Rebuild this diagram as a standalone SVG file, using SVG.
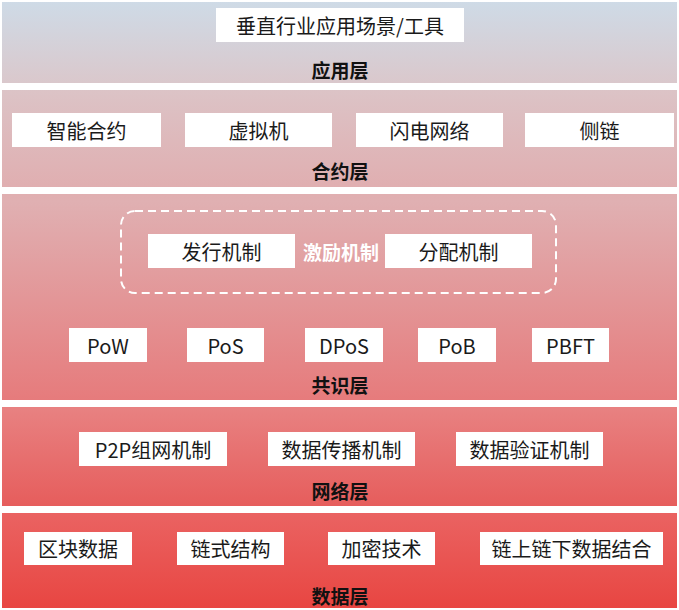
<svg xmlns="http://www.w3.org/2000/svg" width="679" height="610" viewBox="0 0 679 610">
<style>
.box{fill:#ffffff}
.t{font-family:"Noto Sans CJK SC","Microsoft YaHei",sans-serif;font-size:20px;fill:#1a1a1a;text-anchor:middle;dominant-baseline:central}
.lbl{font-family:"Noto Sans CJK SC",sans-serif;font-size:19px;font-weight:bold;fill:#111;text-anchor:middle;dominant-baseline:central}
.wl{font-family:"Noto Sans CJK SC",sans-serif;font-size:19px;font-weight:bold;fill:#ffffff;text-anchor:middle;dominant-baseline:central}
</style>
<defs>
<linearGradient id="bg" gradientUnits="userSpaceOnUse" x1="0" y1="0" x2="0" y2="610">
<stop offset="0" stop-color="#cedbe7"/>
<stop offset="0.135" stop-color="#dac8cc"/>
<stop offset="0.15" stop-color="#dcc3c6"/>
<stop offset="0.31" stop-color="#e0aeb0"/>
<stop offset="0.33" stop-color="#e0b0b2"/>
<stop offset="0.655" stop-color="#e67b7c"/>
<stop offset="0.67" stop-color="#e88181"/>
<stop offset="0.83" stop-color="#e65d5c"/>
<stop offset="0.84" stop-color="#ea6362"/>
<stop offset="1" stop-color="#e84541"/>
</linearGradient>
</defs>
<rect width="679" height="610" fill="#ffffff"/>
<g id="layer-app">
<rect x="2" y="2" width="675" height="81" fill="url(#bg)"/>
<rect class="box" x="216" y="8" width="248" height="34"/>
<text class="t" x="340" y="25">垂直行业应用场景/工具</text>
<text class="lbl" x="340" y="69">应用层</text>
</g>
<g id="layer-contract">
<rect x="2" y="90" width="675" height="97" fill="url(#bg)"/>
<g id="n-smart"><rect class="box" x="12" y="113" width="149" height="34"/><text class="t" x="86.5" y="130">智能合约</text></g>
<g id="n-vm"><rect class="box" x="185" y="113" width="147" height="34"/><text class="t" x="258.5" y="130">虚拟机</text></g>
<g id="n-lightning"><rect class="box" x="356" y="113" width="147" height="34"/><text class="t" x="429.5" y="130">闪电网络</text></g>
<g id="n-side"><rect class="box" x="525" y="113" width="149" height="34"/><text class="t" x="599.5" y="130">侧链</text></g>
<text class="lbl" x="340" y="170">合约层</text>
</g>
<g id="layer-consensus">
<rect x="2" y="194" width="675" height="206" fill="url(#bg)"/>
<g id="incentive">
<rect x="121" y="211" width="435" height="82" rx="14" fill="none" stroke="#ffffff" stroke-width="2" stroke-dasharray="8,5"/>
<g id="n-issue"><rect class="box" x="148" y="234" width="147" height="34"/><text class="t" x="221.5" y="251">发行机制</text></g>
<text class="wl" x="341" y="251">激励机制</text>
<g id="n-dist"><rect class="box" x="385" y="234" width="147" height="34"/><text class="t" x="458.5" y="251">分配机制</text></g>
</g>
<g id="n-pow"><rect class="box" x="69" y="328" width="78" height="34"/><text class="t" x="108" y="345">PoW</text></g>
<g id="n-pos"><rect class="box" x="187" y="328" width="77" height="34"/><text class="t" x="225.5" y="345">PoS</text></g>
<g id="n-dpos"><rect class="box" x="305" y="328" width="78" height="34"/><text class="t" x="344" y="345">DPoS</text></g>
<g id="n-pob"><rect class="box" x="418" y="328" width="78" height="34"/><text class="t" x="457" y="345">PoB</text></g>
<g id="n-pbft"><rect class="box" x="532" y="328" width="77" height="34"/><text class="t" x="570.5" y="345">PBFT</text></g>
<text class="lbl" x="340" y="384">共识层</text>
</g>
<g id="layer-network">
<rect x="2" y="407" width="675" height="99" fill="url(#bg)"/>
<g id="n-p2p"><rect class="box" x="79" y="432" width="148" height="34"/><text class="t" x="153" y="449">P2P组网机制</text></g>
<g id="n-spread"><rect class="box" x="268" y="432" width="147" height="34"/><text class="t" x="341.5" y="449">数据传播机制</text></g>
<g id="n-verify"><rect class="box" x="456" y="432" width="147" height="34"/><text class="t" x="529.5" y="449">数据验证机制</text></g>
<text class="lbl" x="340" y="490">网络层</text>
</g>
<g id="layer-data">
<rect x="2" y="513" width="675" height="95" fill="url(#bg)"/>
<g id="n-block"><rect class="box" x="24" y="532" width="108" height="33"/><text class="t" x="78" y="548.5">区块数据</text></g>
<g id="n-chain"><rect class="box" x="177" y="532" width="107" height="33"/><text class="t" x="230.5" y="548.5">链式结构</text></g>
<g id="n-crypto"><rect class="box" x="328" y="532" width="107" height="33"/><text class="t" x="381.5" y="548.5">加密技术</text></g>
<g id="n-onoff"><rect class="box" x="480" y="532" width="183" height="33"/><text class="t" x="571.5" y="548.5">链上链下数据结合</text></g>
<text class="lbl" x="340" y="595">数据层</text>
</g>
<g id="connectors"></g>
</svg>
